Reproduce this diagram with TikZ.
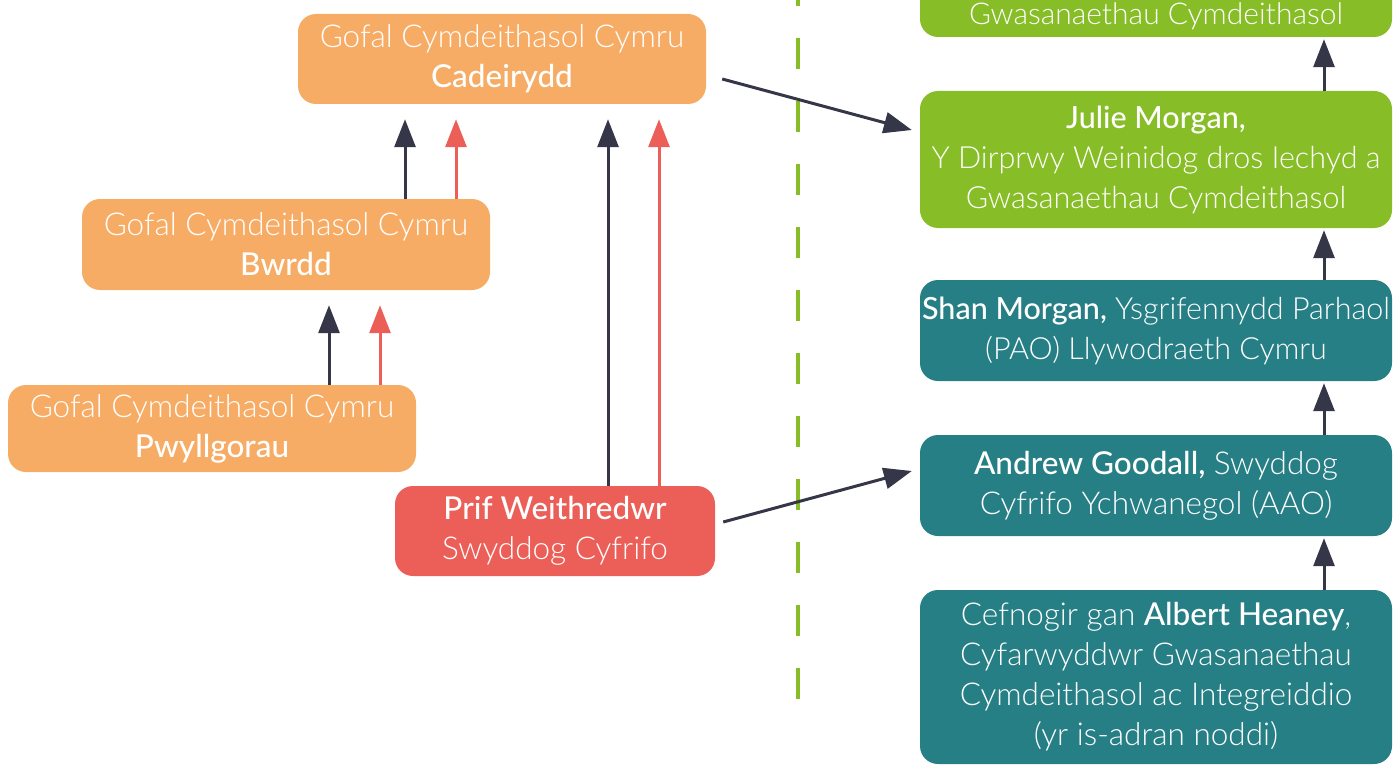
\documentclass[tikz,border=0pt]{standalone}
\usepackage{fontspec}
\setmainfont{Lato Light}[BoldFont={Lato Medium}]
\usetikzlibrary{arrows.meta}
\definecolor{orng}{HTML}{F6AC65}
\definecolor{redb}{HTML}{EB5F58}
\definecolor{grn}{HTML}{87BD26}
\definecolor{teal}{HTML}{267F85}
\definecolor{dark}{HTML}{363649}
\begin{document}
\begin{tikzpicture}[x=1pt,y=-1pt,
  box/.style={rounded corners=18pt, inner sep=0pt, text=white, align=center,
    font=\fontsize{31.5}{40}\selectfont},
  obox/.style={box, fill=orng, minimum width=408pt},
  rbox/.style={box, fill=redb},
  gbox/.style={box, fill=grn, minimum width=472pt},
  tbox/.style={box, fill=teal, minimum width=472pt},
  darr/.style={draw=dark, line width=3pt, -{Triangle[length=28pt,width=21pt]}},
  rarr/.style={draw=redb, line width=3pt, -{Triangle[length=28pt,width=21pt]}},
  divider/.style={draw=grn, line width=4pt, dash pattern=on 31pt off 32pt}
]
\useasboundingbox (0,0) rectangle (1394,765);
\clip (0,0) rectangle (1394,765);

\node[obox, minimum height=90pt] (cad) at (502,59) {Gofal Cymdeithasol Cymru\\\textbf{Cadeirydd}};
\node[obox, minimum height=91pt] (bwr) at (286,244.5) {Gofal Cymdeithasol Cymru\\\textbf{Bwrdd}};
\node[obox, minimum height=87pt] (pwy) at (212,428.5) {Gofal Cymdeithasol Cymru\\\textbf{Pwyllgorau}};
\node[rbox, minimum width=320pt, minimum height=90pt] (prif) at (555,531) {\textbf{Prif Weithredwr}\\Swyddog Cyfrifo};

\node[gbox, minimum height=137pt] (gtop) at (1156,-31.5) {};
\node[text=white, font=\fontsize{30}{40}\selectfont] (gtoptxt) at (1156,16) {Gwasanaethau Cymdeithasol};
\node[gbox, minimum height=137pt, font=\fontsize{30.5}{40}\selectfont] (jul) at (1156,159.5) {\textbf{Julie Morgan,}\\Y Dirprwy Weinidog dros Iechyd a\\Gwasanaethau Cymdeithasol};
\node[tbox, minimum height=101pt, font=\fontsize{30.5}{40}\selectfont] (shan) at (1156,330.5) {\textbf{Shan Morgan,} Ysgrifennydd Parhaol\\(PAO) Llywodraeth Cymru};
\node[tbox, minimum height=101pt] (andr) at (1156,485.5) {\textbf{Andrew Goodall,} Swyddog\\Cyfrifo Ychwanegol (AAO)};
\node[tbox, minimum height=174pt] (alb) at (1156,677) {Cefnogir gan \textbf{Albert Heaney},\\Cyfarwyddwr Gwasanaethau\\Cymdeithasol ac Integreiddio\\(yr is-adran noddi)};

\coordinate (dtop) at (798,-25);
\coordinate (dbot) at (798,700);
\draw[divider] (dtop) -- (dbot);

\draw[darr, shorten >=15pt] ([xshift=119pt]bwr.north) -- ([xshift=-97pt]cad.south);
\draw[rarr, shorten >=15pt] ([xshift=170pt]bwr.north) -- ([xshift=-46pt]cad.south);
\draw[darr, shorten >=15pt] ([xshift=117pt]pwy.north) -- ([xshift=43pt]bwr.south);
\draw[rarr, shorten >=15pt] ([xshift=168pt]pwy.north) -- ([xshift=94pt]bwr.south);
\draw[darr, shorten >=15pt] ([xshift=53pt]prif.north) -- ([xshift=106pt]cad.south);
\draw[rarr, shorten >=15pt] ([xshift=104pt]prif.north) -- ([xshift=157pt]cad.south);

\draw[darr, shorten >=2pt] ([xshift=168pt]jul.north) -- ([xshift=168pt]gtop.south);
\draw[darr, shorten >=2pt] ([xshift=168pt]shan.north) -- ([xshift=168pt]jul.south);
\draw[darr, shorten >=2pt] ([xshift=168pt]andr.north) -- ([xshift=168pt]shan.south);
\draw[darr, shorten >=2pt] ([xshift=168pt]alb.north) -- ([xshift=168pt]andr.south);

\draw[darr] ([xshift=16pt,yshift=-20pt]cad.east) -- ([xshift=-8pt,yshift=29.5pt]jul.west);
\draw[darr] ([xshift=8pt,yshift=9pt]prif.east) -- ([xshift=-8pt,yshift=14.5pt]andr.west);
\end{tikzpicture}
\end{document}
